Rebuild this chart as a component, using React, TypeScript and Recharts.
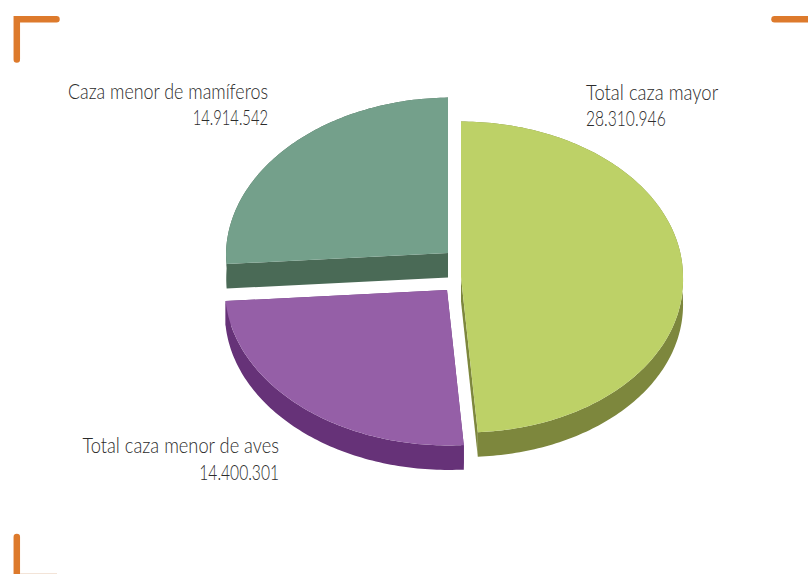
import { PieChart, Pie, Cell } from "recharts";

const categories = ["Total caza mayor", "Total caza menor de aves", "Caza menor de mamíferos"];
const values = [28310946, 14400301, 14914542];

const topColors = ["#BDD167", "#955FA7", "#74A08B"];
const wallColors = ["#7D873D", "#663278", "#4A6A56"];

// how far each slice is pulled out of the pie
const explode = [
  { dx: 12, dy: 5 },
  { dx: -2, dy: 18 },
  { dx: -1, dy: -19 },
];

// label anchor points, two lines each
const labelSpots = [
  { x: 586, y: 100, gap: 26, anchor: "start", nameScale: 0.84, valueScale: 0.71 },
  { x: 279, y: 453, gap: 27, anchor: "end", nameScale: 0.83, valueScale: 0.71 },
  { x: 268, y: 99, gap: 26, anchor: "end", nameScale: 0.812, valueScale: 0.67 },
];

const SQUASH = 0.7;
const DEPTH = 24.5;
// small perspective lean of the front and the left of the pie
const SKEW_X = 0.03;
const SKEW_Y = 0.011;
const data = categories.map((name, i) => ({ name, value: values[i] }));

const formatValue = (v: number) => String(v).replace(/\B(?=(\d{3})+$)/g, ".");

function Slice(props: any) {
  const { cx, cy, outerRadius, startAngle, endAngle, index } = props;
  const i = index ?? data.findIndex((d) => d.name === props.name);
  const ox = cx + explode[i].dx;
  const oy = cy + explode[i].dy;
  const rx = outerRadius;
  const ry = outerRadius * SQUASH;
  const pt = (deg: number, drop = 0) => {
    const a = (deg * Math.PI) / 180;
    const x = rx * Math.cos(a);
    const y = -ry * Math.sin(a);
    return `${ox + x + SKEW_X * Math.max(0, y)} ${oy + y + SKEW_Y * Math.max(0, -x) + drop}`;
  };
  const steps = Math.ceil(Math.abs(startAngle - endAngle));
  const angles = Array.from({ length: steps + 1 }, (_, k) => startAngle + ((endAngle - startAngle) * k) / steps);
  const front = angles.map((a) => pt(a)).join(" L ");
  const back = [...angles].reverse().map((a) => pt(a, DEPTH)).join(" L ");
  const top = `M ${ox} ${oy} L ${front} Z`;
  const rim = `M ${front} L ${back} Z`;
  const faceA = `M ${ox} ${oy} L ${pt(startAngle)} L ${pt(startAngle, DEPTH)} L ${ox} ${oy + DEPTH} Z`;
  const faceB = `M ${ox} ${oy} L ${pt(endAngle)} L ${pt(endAngle, DEPTH)} L ${ox} ${oy + DEPTH} Z`;
  return (
    <g>
      <path d={faceA} fill={wallColors[i]} />
      <path d={faceB} fill={wallColors[i]} />
      <path d={rim} fill={wallColors[i]} />
      <path d={top} fill={topColors[i]} />
    </g>
  );
}

function SliceLabel(props: any) {
  const i = props.index;
  const spot = labelSpots[i];
  const common = { textAnchor: spot.anchor, fontFamily: "Lato", fontWeight: 300, fontSize: 22, fill: "#2B2B2B" };
  return (
    <g>
      <text {...common} transform={`translate(${spot.x} ${spot.y}) scale(${spot.nameScale} 1)`}>
        {categories[i]}
      </text>
      <text {...common} transform={`translate(${spot.x} ${spot.y + spot.gap}) scale(${spot.valueScale} 1)`}>
        {formatValue(values[i])}
      </text>
    </g>
  );
}

const ORANGE = "#DD7A2C";

export default function App() {
  return (
    <div style={{ position: "absolute", left: 0, top: 0, width: 808, height: 574, overflow: "hidden", background: "#fff" }}>
      <svg width={808} height={574} style={{ position: "absolute", left: 0, top: 0 }}>
        <path d="M 16.8 59.5 V 19.3 H 56.5" fill="none" stroke={ORANGE} strokeWidth={6.5} strokeLinecap="round" strokeLinejoin="miter" />
        <line x1={774.5} y1={19.3} x2={812} y2={19.3} stroke={ORANGE} strokeWidth={6.5} strokeLinecap="round" />
        <line x1={16.8} y1={537} x2={16.8} y2={580} stroke={ORANGE} strokeWidth={6.5} strokeLinecap="round" />
        <line x1={20} y1={573.5} x2={57} y2={573.5} stroke="#F3E4D8" strokeWidth={1} />
      </svg>
      <div style={{ position: "absolute", left: 0, top: 0 }}>
        <PieChart width={808} height={574} margin={{ top: 0, right: 0, bottom: 0, left: 0 }}>
          <Pie
            data={data}
            dataKey="value"
            nameKey="name"
            cx={449}
            cy={272}
            innerRadius={0}
            outerRadius={222}
            startAngle={90}
            endAngle={-270}
            paddingAngle={0}
            stroke="none"
            shape={Slice}
            label={SliceLabel}
            labelLine={false}
            isAnimationActive={false}
          >
            {data.map((d, i) => (
              <Cell key={d.name} fill={topColors[i]} />
            ))}
          </Pie>
        </PieChart>
      </div>
    </div>
  );
}
